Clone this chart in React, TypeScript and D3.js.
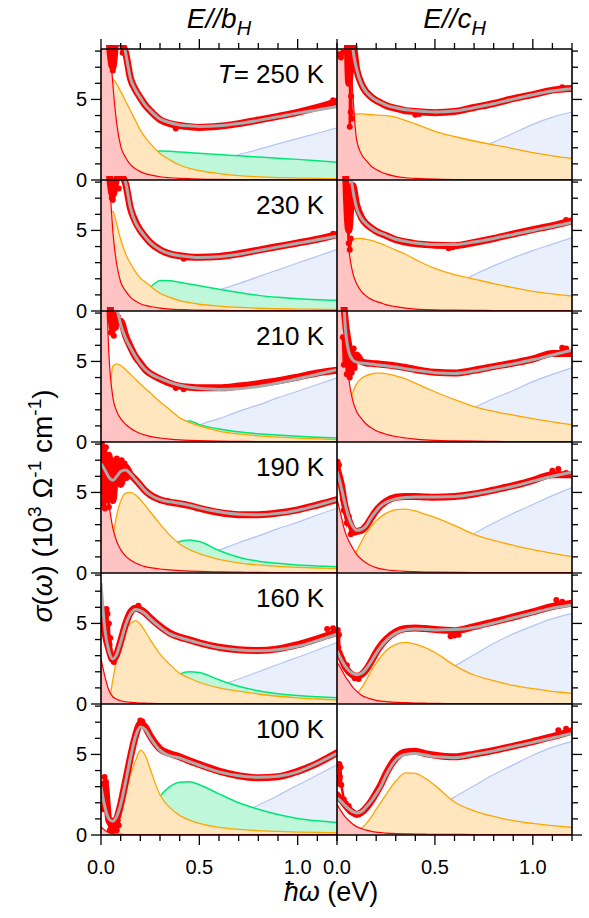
import React from "react";
import * as d3 from "d3";

// energy grid (eV) shared by all component / fit / data series
const E = [0, 0.02, 0.04, 0.06, 0.08, 0.1, 0.125, 0.15, 0.175, 0.2, 0.225, 0.25, 0.3, 0.35, 0.4, 0.45, 0.5, 0.6, 0.7, 0.8, 0.9, 1.0, 1.1, 1.2];

const TEMPS = ["250 K", "230 K", "210 K", "190 K", "160 K", "100 K"];
const COLUMN_TITLES = ["b", "c"];
const X_TICK_LABELS = ["0.0", "0.5", "1.0"];
const Y_TICK_LABELS = ["0", "5"];

// ---------- 250 K ----------
const drude_b250 = [30, 20, 10, 6.0, 3.5, 2.1, 1.4, 0.95, 0.7, 0.52, 0.4, 0.32, 0.2, 0.14, 0.1, 0.08, 0.06, 0.04, 0.03, 0.03, 0.02, 0.02, 0.02, 0.02];
const orange_b250 = [0, 2.5, 5.5, 6.25, 5.95, 5.5, 4.9, 4.3, 3.7, 3.1, 2.65, 2.27, 1.65, 1.25, 0.93, 0.72, 0.58, 0.4, 0.27, 0.2, 0.15, 0.12, 0.1, 0.08];
const green_b250 = [0, 0.05, 0.15, 0.3, 0.45, 0.6, 0.8, 1.0, 1.2, 1.38, 1.55, 1.7, 1.8, 1.78, 1.74, 1.7, 1.66, 1.58, 1.5, 1.42, 1.35, 1.28, 1.2, 1.1];
const blue_b250 = [0, 0, 0, 0, 0, 0.01, 0.02, 0.03, 0.04, 0.06, 0.09, 0.12, 0.22, 0.35, 0.5, 0.67, 0.85, 1.2, 1.57, 1.9, 2.24, 2.57, 2.9, 3.24];
const fit_b250 = [40, 25, 15, 11.5, 10.3, 9.3, 7.9, 6.3, 5.6, 5.1, 4.65, 4.32, 3.78, 3.55, 3.42, 3.36, 3.32, 3.36, 3.5, 3.7, 3.92, 4.15, 4.35, 4.55];
const data_b250 = [30, 20, 9, 7.0, 9, 8.6, 7.9, 6.3, 5.6, 5.1, 4.65, 4.3, 3.75, 3.5, 3.38, 3.3, 3.26, 3.33, 3.5, 3.72, 3.95, 4.2, 4.5, 4.88];
const noise_b250 = [[0.05, 7.9], [0.055, 7.2], [0.06, 6.8], [0.065, 7.4], [0.11, 7.9], [0.115, 8.0], [0.38, 3.2], [1.18, 4.95]];

const drude_c250 = [30, 22, 14, 10, 5.5, 2.5, 1.6, 1.2, 0.85, 0.65, 0.5, 0.38, 0.22, 0.14, 0.1, 0.07, 0.05, 0.03, 0.03, 0.02, 0.02, 0.02, 0.02, 0.02];
const orange_c250 = [0, 2.0, 3.6, 4.05, 4.1, 4.1, 4.1, 4.08, 4.05, 4.03, 4.01, 4.0, 3.9, 3.7, 3.48, 3.25, 3.02, 2.7, 2.42, 2.18, 1.95, 1.7, 1.5, 1.34];
const blue_c250 = [0, 0, 0, 0, 0, 0, 0, 0, 0.01, 0.02, 0.04, 0.06, 0.12, 0.22, 0.35, 0.5, 0.68, 1.2, 1.72, 2.35, 2.9, 3.45, 3.9, 4.22];
const fit_c250 = [30, 25, 18, 12, 8.3, 6.9, 5.95, 5.45, 5.15, 4.94, 4.8, 4.65, 4.48, 4.36, 4.3, 4.25, 4.22, 4.28, 4.49, 4.73, 5.02, 5.29, 5.52, 5.66];
const data_c250 = [30, 25, 18, 6.0, 8.5, 6.9, 5.95, 5.45, 5.15, 4.94, 4.78, 4.62, 4.45, 4.3, 4.25, 4.2, 4.18, 4.25, 4.5, 4.75, 5.05, 5.3, 5.58, 5.68];
const noise_c250 = [[0.01, 7.8], [0.02, 7.6], [0.03, 7.9], [0.065, 3.3], [0.068, 7.5], [0.07, 4.2], [0.072, 5.2], [0.075, 3.8], [0.4, 4.05], [0.42, 4.1], [1.15, 5.75]];

// ---------- 230 K ----------
const drude_b230 = [30, 20, 9.5, 5.0, 2.9, 1.8, 1.25, 0.85, 0.62, 0.45, 0.35, 0.28, 0.18, 0.12, 0.09, 0.07, 0.05, 0.04, 0.03, 0.03, 0.02, 0.02, 0.02, 0.02];
const orange_b230 = [0, 2.5, 5.5, 6.2, 5.4, 4.45, 3.55, 2.95, 2.45, 2.05, 1.8, 1.55, 1.1, 0.85, 0.65, 0.52, 0.42, 0.3, 0.22, 0.17, 0.14, 0.12, 0.11, 0.1];
const green_b230 = [0, 0.1, 0.2, 0.35, 0.5, 0.65, 0.85, 1.02, 1.18, 1.3, 1.4, 1.5, 1.9, 1.88, 1.78, 1.67, 1.56, 1.35, 1.15, 0.97, 0.85, 0.76, 0.7, 0.66];
const blue_b230 = [0, 0, 0, 0, 0, 0.01, 0.02, 0.03, 0.05, 0.08, 0.11, 0.14, 0.25, 0.38, 0.55, 0.72, 0.9, 1.3, 1.7, 2.13, 2.55, 2.98, 3.4, 3.83];
const fit_b230 = [30, 20, 14, 11, 9.5, 8.7, 8.0, 6.4, 5.5, 5.0, 4.6, 4.25, 3.8, 3.55, 3.43, 3.36, 3.32, 3.37, 3.52, 3.75, 3.98, 4.2, 4.42, 4.64];
const data_b230 = [30, 20, 9, 7.2, 8.2, 8.4, 7.9, 6.35, 5.55, 5.0, 4.6, 4.25, 3.8, 3.55, 3.43, 3.35, 3.33, 3.38, 3.55, 3.78, 4.0, 4.22, 4.45, 4.74];
const noise_b230 = [[0.05, 8.0], [0.055, 7.0], [0.06, 6.9], [0.065, 7.6], [0.07, 7.8], [0.09, 7.6], [0.42, 3.25], [1.18, 4.8]];

const drude_c230 = [30, 20, 8.5, 4.0, 2.4, 1.7, 1.2, 0.92, 0.72, 0.6, 0.5, 0.4, 0.27, 0.18, 0.12, 0.09, 0.07, 0.05, 0.04, 0.03, 0.02, 0.02, 0.02, 0.02];
const orange_c230 = [0, 1.5, 3.3, 4.1, 4.4, 4.5, 4.5, 4.45, 4.38, 4.28, 4.18, 4.05, 3.78, 3.52, 3.2, 2.9, 2.65, 2.25, 1.98, 1.7, 1.45, 1.22, 1.06, 0.93];
const blue_c230 = [0, 0, 0, 0, 0, 0, 0, 0.01, 0.02, 0.03, 0.05, 0.07, 0.15, 0.25, 0.45, 0.7, 1.0, 1.65, 2.25, 2.8, 3.3, 3.75, 4.15, 4.55];
const fit_c230 = [30, 20, 12, 9.5, 7.6, 6.4, 5.75, 5.4, 5.15, 4.95, 4.82, 4.7, 4.45, 4.32, 4.22, 4.16, 4.12, 4.12, 4.28, 4.5, 4.75, 5.0, 5.25, 5.49];
const data_c230 = [30, 20, 10, 5.0, 7.8, 6.6, 5.8, 5.4, 5.15, 4.95, 4.8, 4.68, 4.42, 4.28, 4.18, 4.12, 4.08, 4.05, 4.25, 4.5, 4.78, 5.05, 5.3, 5.6];
const noise_c230 = [[0.05, 7.3], [0.055, 6.5], [0.058, 5.5], [0.06, 4.2], [0.065, 3.8], [0.07, 4.5], [0.57, 3.9], [0.59, 3.95], [1.17, 5.65]];

// ---------- 210 K ----------
const drude_b210 = [25, 13, 5.5, 2.8, 1.9, 1.45, 1.1, 0.85, 0.67, 0.53, 0.43, 0.35, 0.25, 0.18, 0.13, 0.1, 0.08, 0.05, 0.04, 0.03, 0.03, 0.03, 0.03, 0.03];
const orange_b210 = [0, 0.5, 2.5, 4.7, 4.85, 4.75, 4.5, 4.2, 3.9, 3.6, 3.32, 3.05, 2.5, 2.0, 1.5, 1.22, 1.0, 0.68, 0.5, 0.38, 0.3, 0.24, 0.19, 0.15];
const green_b210 = [0, 0, 0, 0.02, 0.05, 0.08, 0.12, 0.17, 0.23, 0.3, 0.38, 0.46, 0.65, 0.9, 1.2, 1.3, 1.08, 0.8, 0.63, 0.51, 0.43, 0.36, 0.3, 0.25];
const blue_b210 = [0, 0, 0, 0, 0, 0, 0.01, 0.02, 0.03, 0.05, 0.07, 0.1, 0.18, 0.3, 0.45, 0.7, 1.05, 1.45, 1.9, 2.3, 2.75, 3.15, 3.57, 3.98];
const fit_b210 = [30, 20, 13, 10, 8.4, 7.3, 6.45, 5.85, 5.3, 4.85, 4.5, 4.25, 3.95, 3.7, 3.52, 3.4, 3.33, 3.26, 3.3, 3.45, 3.66, 3.92, 4.2, 4.49];
const data_b210 = [25, 12, 9.5, 7.0, 7.4, 7.5, 6.6, 5.9, 5.3, 4.9, 4.5, 4.25, 3.92, 3.65, 3.47, 3.4, 3.36, 3.36, 3.47, 3.62, 3.8, 4.03, 4.28, 4.45];
const noise_b210 = [[0.045, 7.8], [0.05, 6.8], [0.055, 7.6], [0.065, 6.6], [0.07, 7.9], [0.075, 7.1], [0.085, 7.8], [0.38, 3.35], [0.42, 3.28]];

const drude_c210 = [25, 14, 7.5, 4.0, 2.6, 1.9, 1.45, 1.1, 0.88, 0.7, 0.58, 0.48, 0.34, 0.25, 0.18, 0.13, 0.1, 0.07, 0.05, 0.04, 0.03, 0.03, 0.03, 0.03];
const orange_c210 = [0, 0.3, 0.9, 2.0, 3.05, 3.6, 3.95, 4.12, 4.22, 4.28, 4.28, 4.25, 4.1, 3.92, 3.65, 3.38, 3.12, 2.63, 2.2, 1.9, 1.67, 1.45, 1.25, 1.08];
const blue_c210 = [0, 0, 0, 0, 0, 0, 0.01, 0.02, 0.04, 0.08, 0.13, 0.2, 0.35, 0.5, 0.72, 0.95, 1.2, 1.7, 2.15, 2.7, 3.2, 3.75, 4.2, 4.6];
const fit_c210 = [30, 16, 7.5, 5.6, 5.1, 4.95, 4.9, 4.87, 4.84, 4.8, 4.77, 4.73, 4.65, 4.55, 4.45, 4.37, 4.3, 4.25, 4.4, 4.63, 4.85, 5.1, 5.4, 5.69];
const data_c210 = [25, 12, 7.8, 6.0, 4.6, 5.4, 5.0, 4.9, 4.88, 4.85, 4.83, 4.8, 4.72, 4.62, 4.5, 4.4, 4.33, 4.28, 4.45, 4.68, 4.9, 5.15, 5.5, 5.5];
const noise_c210 = [[0.03, 6.5], [0.035, 4.8], [0.045, 6.3], [0.05, 4.2], [0.055, 6.0], [0.065, 4.0], [0.07, 5.6], [0.075, 4.3], [0.085, 5.8], [0.09, 4.6], [1.15, 5.85], [1.17, 5.8]];

// ---------- 190 K ----------
const drude_b190 = [7.5, 6.2, 4.3, 2.8, 1.95, 1.45, 1.05, 0.8, 0.62, 0.5, 0.4, 0.33, 0.25, 0.2, 0.15, 0.12, 0.1, 0.07, 0.05, 0.04, 0.03, 0.03, 0.03, 0.03];
const orange_b190 = [0, 0.2, 0.8, 2.2, 3.6, 4.45, 4.95, 5.0, 4.85, 4.55, 4.2, 3.8, 3.05, 2.35, 1.8, 1.45, 1.2, 0.85, 0.63, 0.5, 0.41, 0.35, 0.31, 0.28];
const green_b190 = [0, 0, 0, 0, 0.01, 0.03, 0.05, 0.08, 0.15, 0.3, 0.45, 0.6, 1.1, 1.6, 1.95, 2.05, 1.95, 1.4, 0.98, 0.73, 0.6, 0.5, 0.44, 0.39];
const blue_b190 = [0, 0, 0, 0, 0, 0, 0.01, 0.02, 0.03, 0.05, 0.07, 0.1, 0.25, 0.4, 0.6, 0.8, 1.0, 1.42, 1.88, 2.3, 2.75, 3.15, 3.6, 4.02];
const fit_b190 = [6.8, 6.4, 5.95, 5.75, 6.0, 6.3, 6.4, 6.15, 5.8, 5.45, 5.1, 4.85, 4.55, 4.42, 4.33, 4.2, 4.05, 3.8, 3.65, 3.62, 3.7, 3.9, 4.2, 4.55];
const data_b190 = [7.0, 5.0, 7.3, 4.5, 6.8, 5.5, 6.6, 6.1, 5.8, 5.45, 5.1, 4.85, 4.55, 4.4, 4.3, 4.18, 4.02, 3.75, 3.62, 3.62, 3.72, 3.92, 4.22, 4.55];
const noise_b190 = [[0.005, 8.0], [0.01, 4.3], [0.015, 7.6], [0.02, 4.0], [0.025, 7.8], [0.03, 4.5], [0.035, 7.2], [0.04, 4.1], [0.045, 6.8], [0.05, 4.6], [0.055, 7.0], [0.06, 5.2], [0.065, 6.9], [0.07, 5.6], [0.08, 7.1], [0.085, 5.7], [0.09, 6.9], [0.1, 5.8], [0.105, 7.0], [0.11, 6.0], [0.12, 6.8], [0.13, 5.9]];

const drude_c190 = [4.6, 3.6, 2.6, 2.0, 1.55, 1.15, 0.85, 0.62, 0.45, 0.33, 0.26, 0.2, 0.14, 0.1, 0.08, 0.06, 0.05, 0.04, 0.03, 0.03, 0.03, 0.03, 0.03, 0.03];
const orange_c190 = [0, 0, 0.1, 0.35, 0.8, 1.35, 1.95, 2.5, 2.9, 3.25, 3.5, 3.7, 3.93, 3.97, 3.85, 3.65, 3.45, 2.95, 2.4, 2.02, 1.72, 1.45, 1.22, 1.01];
const blue_c190 = [0, 0, 0, 0, 0, 0, 0.01, 0.02, 0.04, 0.07, 0.1, 0.15, 0.3, 0.5, 0.75, 1.0, 1.25, 1.8, 2.45, 3.1, 3.7, 4.25, 4.8, 5.3];
const fit_c190 = [6.3, 5.4, 4.35, 3.45, 2.9, 2.65, 2.7, 2.95, 3.45, 3.85, 4.18, 4.38, 4.6, 4.68, 4.72, 4.72, 4.72, 4.75, 4.9, 5.12, 5.38, 5.7, 6.0, 6.25];
const data_c190 = [6.5, 5.6, 4.2, 3.3, 2.75, 2.58, 2.65, 2.95, 3.42, 3.87, 4.2, 4.45, 4.7, 4.75, 4.75, 4.72, 4.7, 4.75, 4.9, 5.15, 5.42, 5.75, 6.1, 6.1];
const noise_c190 = [[0.003, 6.9], [0.006, 5.9], [0.01, 6.7], [0.012, 5.7], [0.03, 4.6], [0.035, 3.9], [0.05, 3.1], [0.06, 3.5], [0.07, 2.4], [0.09, 2.5], [1.1, 6.35], [1.13, 6.45], [1.17, 6.2]];

// ---------- 160 K ----------
const drude_b160 = [2.8, 1.7, 0.85, 0.45, 0.3, 0.2, 0.14, 0.1, 0.08, 0.06, 0.05, 0.04, 0.03, 0.03, 0.02, 0.02, 0.02, 0.02, 0.02, 0.02, 0.02, 0.02, 0.02, 0.02];
const orange_b160 = [0, 0.02, 0.2, 1.5, 2.8, 3.7, 4.65, 5.0, 5.18, 4.95, 4.5, 4.0, 3.1, 2.45, 1.9, 1.6, 1.35, 1.0, 0.8, 0.62, 0.48, 0.38, 0.31, 0.25];
const green_b160 = [0, 0, 0, 0, 0.01, 0.03, 0.05, 0.08, 0.12, 0.2, 0.28, 0.4, 0.8, 1.35, 1.85, 2.0, 1.95, 1.5, 1.1, 0.82, 0.64, 0.52, 0.45, 0.39];
const blue_b160 = [0, 0, 0, 0, 0, 0, 0, 0.01, 0.02, 0.03, 0.05, 0.07, 0.15, 0.25, 0.4, 0.6, 0.8, 1.15, 1.55, 2.0, 2.45, 2.9, 3.35, 3.81];
const fit_b160 = [7.5, 4.6, 3.3, 2.8, 3.1, 3.85, 4.9, 5.6, 5.87, 5.8, 5.6, 5.3, 4.78, 4.35, 4.13, 3.95, 3.78, 3.5, 3.35, 3.3, 3.37, 3.58, 3.93, 4.33];
const data_b160 = [6.0, 4.4, 3.4, 2.75, 3.1, 3.9, 4.95, 5.7, 5.95, 5.85, 5.65, 5.35, 4.82, 4.4, 4.15, 3.98, 3.8, 3.52, 3.37, 3.32, 3.42, 3.68, 4.05, 4.45];
const noise_b160 = [[0.028, 5.9], [0.03, 4.8], [0.033, 5.6], [0.036, 4.2], [0.04, 5.0], [0.043, 3.7], [0.047, 4.1], [0.055, 3.0], [0.065, 2.6], [0.07, 2.9], [0.19, 6.1], [1.15, 4.65], [1.18, 4.7]];

const drude_c160 = [2.6, 2.2, 1.75, 1.4, 1.05, 0.8, 0.55, 0.4, 0.3, 0.23, 0.18, 0.15, 0.1, 0.08, 0.06, 0.05, 0.04, 0.03, 0.03, 0.02, 0.02, 0.02, 0.02, 0.02];
const orange_c160 = [0, 0, 0.05, 0.15, 0.35, 0.6, 1.0, 1.5, 2.05, 2.55, 2.95, 3.3, 3.7, 3.83, 3.72, 3.5, 3.2, 2.4, 1.8, 1.45, 1.15, 0.95, 0.78, 0.66];
const blue_c160 = [0, 0, 0, 0, 0, 0, 0.01, 0.02, 0.04, 0.1, 0.15, 0.22, 0.45, 0.72, 1.0, 1.3, 1.65, 2.35, 3.05, 3.75, 4.35, 4.85, 5.3, 5.63];
const fit_c160 = [3.3, 2.8, 2.38, 2.08, 1.9, 1.82, 1.9, 2.2, 2.65, 3.15, 3.58, 3.92, 4.4, 4.6, 4.65, 4.63, 4.6, 4.62, 4.75, 5.03, 5.35, 5.65, 5.95, 6.15];
const data_c160 = [3.4, 2.9, 2.35, 2.0, 1.8, 1.72, 1.82, 2.15, 2.65, 3.2, 3.65, 4.0, 4.48, 4.68, 4.72, 4.68, 4.62, 4.55, 4.8, 5.1, 5.4, 5.72, 6.05, 6.25];
const noise_c160 = [[0.004, 4.6], [0.007, 3.5], [0.01, 4.3], [0.013, 3.2], [0.05, 2.4], [0.09, 1.6], [0.11, 1.55], [0.58, 4.2], [0.6, 4.25], [0.62, 4.3], [1.12, 6.45], [1.15, 6.35]];

// ---------- 100 K ----------
const drude_b100 = [0.5, 0.3, 0.15, 0.08, 0.05, 0.04, 0.03, 0.03, 0.03, 0.03, 0.03, 0.03, 0.02, 0.02, 0.02, 0.02, 0.02, 0.02, 0.02, 0.02, 0.02, 0.02, 0.02, 0.02];
const orange_b100 = [0, 0, 0.03, 0.15, 0.55, 1.55, 2.6, 3.75, 4.6, 5.25, 4.95, 4.1, 2.48, 1.7, 1.22, 0.92, 0.72, 0.47, 0.35, 0.27, 0.22, 0.18, 0.16, 0.14];
const green_b100 = [0, 0, 0, 0, 0.02, 0.1, 0.2, 0.35, 0.55, 0.8, 1.1, 1.45, 2.4, 3.0, 3.28, 3.3, 3.12, 2.55, 2.0, 1.6, 1.27, 1.03, 0.88, 0.77];
const blue_b100 = [0, 0, 0, 0, 0, 0, 0, 0, 0, 0, 0, 0, 0.02, 0.05, 0.1, 0.2, 0.35, 0.75, 1.25, 1.85, 2.45, 3.1, 3.72, 4.35];
const fit_b100 = [3.0, 1.75, 1.0, 0.85, 1.15, 1.9, 3.3, 4.8, 6.1, 6.7, 6.55, 6.05, 5.25, 4.92, 4.78, 4.55, 4.33, 3.92, 3.68, 3.58, 3.65, 3.92, 4.45, 5.07];
const data_b100 = [2.5, 3.2, 0.9, 0.6, 1.0, 1.9, 3.35, 4.85, 6.15, 6.9, 6.7, 6.15, 5.35, 5.05, 4.85, 4.6, 4.38, 3.97, 3.68, 3.55, 3.62, 3.95, 4.45, 5.1];
const noise_b100 = [[0.008, 1.6], [0.012, 3.2], [0.015, 2.4], [0.018, 3.6], [0.022, 2.8], [0.025, 3.3], [0.028, 2.0], [0.045, 0.3], [0.05, 0.8], [0.055, 0.25], [0.06, 0.9], [0.065, 0.3], [0.07, 0.5], [0.08, 0.3], [0.085, 0.9], [0.09, 0.6], [0.2, 7.1], [0.21, 7.05]];

const drude_c100 = [1.9, 1.5, 1.15, 0.9, 0.68, 0.52, 0.4, 0.3, 0.23, 0.18, 0.15, 0.12, 0.09, 0.07, 0.06, 0.05, 0.04, 0.04, 0.03, 0.03, 0.03, 0.03, 0.03, 0.03];
const orange_c100 = [0, 0, 0.02, 0.05, 0.12, 0.22, 0.42, 0.72, 1.12, 1.6, 2.05, 2.5, 3.35, 3.85, 3.82, 3.52, 3.08, 2.05, 1.5, 1.15, 0.89, 0.72, 0.58, 0.48];
const blue_c100 = [0, 0, 0, 0, 0, 0, 0, 0, 0.01, 0.03, 0.06, 0.12, 0.3, 0.55, 0.85, 1.2, 1.55, 2.35, 3.05, 3.75, 4.35, 4.95, 5.45, 5.8];
const fit_c100 = [2.3, 2.1, 1.85, 1.62, 1.45, 1.36, 1.45, 1.75, 2.1, 2.55, 3.05, 3.7, 4.65, 5.0, 5.06, 4.96, 4.85, 4.8, 5.0, 5.22, 5.49, 5.75, 6.02, 6.31];
const data_c100 = [2.5, 2.2, 1.9, 1.6, 1.4, 1.28, 1.4, 1.7, 2.1, 2.6, 3.15, 3.8, 4.75, 5.15, 5.2, 5.05, 4.95, 4.85, 5.02, 5.25, 5.52, 5.8, 6.1, 6.45];
const noise_c100 = [[0.008, 3.2], [0.012, 4.4], [0.015, 3.6], [0.018, 4.2], [0.022, 3.1], [0.035, 2.2], [0.045, 1.95], [0.06, 1.8], [0.07, 1.45], [1.13, 6.5], [1.17, 6.6], [1.2, 6.5]];

const PANELS = [
  { row: 0, col: 0, drude: drude_b250, orange: orange_b250, green: green_b250, blue: blue_b250, fit: fit_b250, data: data_b250, noise: noise_b250 },
  { row: 0, col: 1, drude: drude_c250, orange: orange_c250, green: null, blue: blue_c250, fit: fit_c250, data: data_c250, noise: noise_c250 },
  { row: 1, col: 0, drude: drude_b230, orange: orange_b230, green: green_b230, blue: blue_b230, fit: fit_b230, data: data_b230, noise: noise_b230 },
  { row: 1, col: 1, drude: drude_c230, orange: orange_c230, green: null, blue: blue_c230, fit: fit_c230, data: data_c230, noise: noise_c230 },
  { row: 2, col: 0, drude: drude_b210, orange: orange_b210, green: green_b210, blue: blue_b210, fit: fit_b210, data: data_b210, noise: noise_b210 },
  { row: 2, col: 1, drude: drude_c210, orange: orange_c210, green: null, blue: blue_c210, fit: fit_c210, data: data_c210, noise: noise_c210 },
  { row: 3, col: 0, drude: drude_b190, orange: orange_b190, green: green_b190, blue: blue_b190, fit: fit_b190, data: data_b190, noise: noise_b190 },
  { row: 3, col: 1, drude: drude_c190, orange: orange_c190, green: null, blue: blue_c190, fit: fit_c190, data: data_c190, noise: noise_c190 },
  { row: 4, col: 0, drude: drude_b160, orange: orange_b160, green: green_b160, blue: blue_b160, fit: fit_b160, data: data_b160, noise: noise_b160 },
  { row: 4, col: 1, drude: drude_c160, orange: orange_c160, green: null, blue: blue_c160, fit: fit_c160, data: data_c160, noise: noise_c160 },
  { row: 5, col: 0, drude: drude_b100, orange: orange_b100, green: green_b100, blue: blue_b100, fit: fit_b100, data: data_b100, noise: noise_b100 },
  { row: 5, col: 1, drude: drude_c100, orange: orange_c100, green: null, blue: blue_c100, fit: fit_c100, data: data_c100, noise: noise_c100 },
];

const FONT = "'Liberation Sans', Arial, Helvetica, sans-serif";
const W = 589, H = 918;
const X0 = 101, XM = 337, X1 = 572, TOP = 49, ROWH = 131, NROWS = 6, YMAX = 8.13;
const BOT = TOP + NROWS * ROWH;

const C = {
  pinkFill: "#FFC3C3", red: "#FF0000",
  orFill: "#FFE6BF", orLine: "#FFA500",
  grFill: "#BEF7DA", grLine: "#00E676",
  blFill: "#EAEFFC", blLine: "#B3C5F5",
  fit: "#ABABAB",
};

const xScale = (col: number) => d3.scaleLinear().domain([0, 1.2]).range(col === 0 ? [X0, XM] : [XM, X1]);
const yScale = (row: number) => d3.scaleLinear().domain([0, YMAX]).range([TOP + (row + 1) * ROWH, TOP + row * ROWH]);

// split scattered points into runs of close neighbours
function runs(pts: number[][]) {
  const out: number[][][] = [];
  pts.forEach((pt, i) => {
    if (i === 0 || pt[0] - pts[i - 1][0] > 0.021) out.push([pt]);
    else out[out.length - 1].push(pt);
  });
  return out;
}

function Panel({ p }: { p: any }) {
  const xs = xScale(p.col);
  const ys = yScale(p.row);
  const area = d3.area<number>().x((_, i) => xs(E[i])).y0(ys(0)).y1((d) => ys(d)).curve(d3.curveMonotoneX);
  const line = d3.line<number>().x((_, i) => xs(E[i])).y((d) => ys(d)).curve(d3.curveMonotoneX);
  const nline = d3.line<number[]>().x((d) => xs(d[0])).y((d) => ys(d[1]));
  const [xa, xb] = xs.range();
  const [yb, ya] = ys.range();
  const id = `clip${p.row}${p.col}`;
  return (
    <g>
      <defs>
        <clipPath id={id}><rect x={xa} y={ya} width={xb - xa} height={yb - ya} /></clipPath>
        <clipPath id={id + "d"}><rect x={xa} y={ya - 4} width={xb - xa} height={yb - ya + 8} /></clipPath>
      </defs>
      <g clipPath={`url(#${id})`}>
        <path d={area(p.blue)!} fill={C.blFill} />
        <path d={line(p.blue)!} fill="none" stroke={C.blLine} strokeWidth={1.2} />
        {p.green && <path d={area(p.green)!} fill={C.grFill} />}
        {p.green && <path d={line(p.green)!} fill="none" stroke={C.grLine} strokeWidth={1.5} />}
        <path d={area(p.orange)!} fill={C.orFill} />
        <path d={line(p.orange)!} fill="none" stroke={C.orLine} strokeWidth={1.3} />
        <path d={area(p.drude)!} fill={C.pinkFill} />
        <path d={line(p.drude)!} fill="none" stroke={C.red} strokeWidth={1.2} />
      </g>
      <g clipPath={`url(#${id}d)`}>
        <path d={line(p.data)!} fill="none" stroke={C.red} strokeWidth={7} strokeLinejoin="round" strokeLinecap="round" />
        {runs(p.noise).map((seg, k) => (
          <path key={"n" + k} d={nline(seg)!} fill="none" stroke={C.red} strokeWidth={2.5} />
        ))}
        {p.noise.map((d: number[], i: number) => (
          <circle key={i} cx={xs(d[0])} cy={ys(d[1])} r={3} fill={C.red} />
        ))}
      </g>
      <g clipPath={`url(#${id})`}>
        <path d={line(p.fit)!} fill="none" stroke={C.fit} strokeWidth={3} />
      </g>
    </g>
  );
}

function Axes() {
  const els: any[] = [];
  [X0, XM, X1].forEach((x, i) => els.push(<line key={"v" + i} x1={x} x2={x} y1={TOP} y2={BOT} stroke="#000" strokeWidth={1.6} />));
  d3.range(NROWS + 1).forEach((k) => {
    const y = TOP + k * ROWH;
    els.push(<line key={"h" + k} x1={X0} x2={X1} y1={y} y2={y} stroke="#000" strokeWidth={1.6} />);
  });
  d3.range(NROWS).forEach((r) => {
    const ys = yScale(r);
    ys.ticks(8).forEach((t) => {
      const major = t % 5 === 0;
      const len = major ? 10 : 6;
      const y = ys(t);
      els.push(<line key={`yl${r}-${t}`} x1={X0 - len} x2={X0} y1={y} y2={y} stroke="#000" strokeWidth={1.3} />);
      els.push(<line key={`yr${r}-${t}`} x1={X1} x2={X1 + len} y1={y} y2={y} stroke="#000" strokeWidth={1.3} />);
    });
    Y_TICK_LABELS.forEach((lab) => {
      els.push(
        <text key={`ylab${r}-${lab}`} x={87} y={ys(+lab) + 7} textAnchor="end" fontSize={20} fontFamily={FONT}>{lab}</text>
      );
    });
  });
  [0, 1].forEach((c) => {
    const xs = xScale(c);
    xs.ticks(12).forEach((t) => {
      const major = Math.abs(t * 2 - Math.round(t * 2)) < 1e-6;
      const len = major ? 10 : 6;
      const x = xs(t);
      els.push(<line key={`xb${c}-${t}`} x1={x} x2={x} y1={BOT} y2={BOT + len} stroke="#000" strokeWidth={1.3} />);
      els.push(<line key={`xt${c}-${t}`} x1={x} x2={x} y1={TOP - len} y2={TOP} stroke="#000" strokeWidth={1.3} />);
    });
    X_TICK_LABELS.forEach((lab) => {
      els.push(
        <text key={`xlab${c}-${lab}`} x={xs(+lab)} y={874} textAnchor="middle" fontSize={20} fontFamily={FONT}>{lab}</text>
      );
    });
  });
  return <g>{els}</g>;
}

export default function App() {
  return (
    <svg width={W} height={H} viewBox={`0 0 ${W} ${H}`} style={{ position: "absolute", left: 0, top: 0, background: "#fff" }}>
      <rect x={0} y={0} width={W} height={H} fill="#fff" />
      {PANELS.map((p, i) => <Panel key={i} p={p} />)}
      <Axes />
      {COLUMN_TITLES.map((t, c) => {
        const [a, b] = xScale(c).range();
        return (
          <text key={t} x={(a + b) / 2} y={28} textAnchor="middle" fontSize={28} fontStyle="italic" fontFamily={FONT}>
            {"E//" + t}
            <tspan fontSize={20} dy={7}>H</tspan>
          </text>
        );
      })}
      {TEMPS.map((t, r) => (
        <text key={t} x={324} y={TOP + r * ROWH + 34} textAnchor="end" fontSize={26} fontFamily={FONT}>
          {r === 0 && <tspan fontStyle="italic">T</tspan>}
          {r === 0 ? "= " + t : t}
        </text>
      ))}
      <text transform="translate(52,506) rotate(-90)" textAnchor="middle" fontSize={28} fontFamily={FONT}>
        <tspan fontStyle="italic">σ</tspan>
        <tspan>(</tspan>
        <tspan fontStyle="italic">ω</tspan>
        <tspan>{") (10"}</tspan>
        <tspan fontSize={19} dy={-11}>3</tspan>
        <tspan dy={11}>{" Ω"}</tspan>
        <tspan fontSize={19} dy={-11}>-1</tspan>
        <tspan dy={11}>{" cm"}</tspan>
        <tspan fontSize={19} dy={-11}>-1</tspan>
        <tspan dy={11}>)</tspan>
      </text>
      <text x={331} y={901} textAnchor="middle" fontSize={27} fontFamily={FONT}>
        <tspan fontStyle="italic">ħω</tspan>
        <tspan>{" (eV)"}</tspan>
      </text>
    </svg>
  );
}
